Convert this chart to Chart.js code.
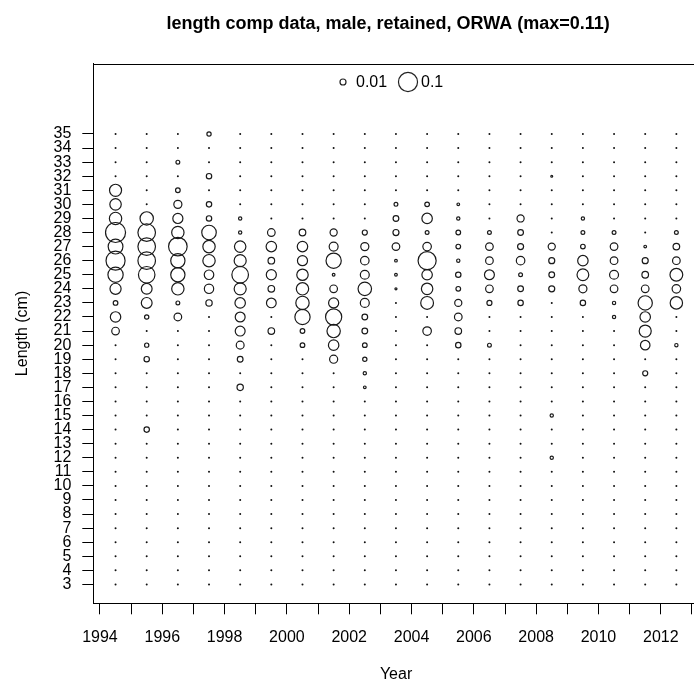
<!DOCTYPE html>
<html><head><meta charset="utf-8">
<script src="https://cdn.jsdelivr.net/npm/chart.js"></script>
<style>
html,body{margin:0;padding:0;overflow:hidden;background:#fff;width:694px;height:690px}
#wrap{width:710px;height:690px;position:relative}
</style></head><body>
<div id="wrap"><canvas id="c" width="710" height="690"></canvas></div>
<script>
// ---------------- DATA ----------------
const chartTitle = 'length comp data, male, retained, ORWA (max=0.11)';
const xAxisTitle = 'Year';
const yAxisTitle = 'Length (cm)';
const yearsMid = [1994.5,1995.5,1996.5,1997.5,1998.5,1999.5,2000.5,2001.5,2002.5,2003.5,
                  2004.5,2005.5,2006.5,2007.5,2008.5,2009.5,2010.5,2011.5,2012.5];
const lengthBins = [3,4,5,6,7,8,9,10,11,12,13,14,15,16,17,18,19,20,21,22,23,24,25,26,27,28,29,30,31,32,33,34,35];
const xTickYears = [1994,1995,1996,1997,1998,1999,2000,2001,2002,2003,2004,2005,2006,2007,2008,2009,2010,2011,2012,2013];
const xLabelYears = [1994,1996,1998,2000,2002,2004,2006,2008,2010,2012];
const legendValues = [0.01, 0.1];
const legendLabels = ['0.01', '0.1'];
const maxProp = 0.11;

// proportions by length bin 3..35 (rows: 3-12 | 13-22 | 23-32 | 33-35)
const p1994 = [0,0,0,0,0,0,0,0,0,0,  0,0,0,0,0,0,0,0,.016,.03,  .006,.034,.064,.10,.06,.11,.042,.036,.04,0,  0,0,0];
const p1995 = [0,0,0,0,0,0,0,0,0,0,  0,.008,0,0,0,0,.008,.005,0,.005,  .032,.032,.075,.085,.085,.085,.049,0,0,0,  0,0,0];
const p1996 = [0,0,0,0,0,0,0,0,0,0,  0,0,0,0,0,0,0,0,0,.016,  .004,.042,.056,.056,.095,.042,.028,.018,.006,0,  .004,0,0];
const p1997 = [0,0,0,0,0,0,0,0,0,0,  0,0,0,0,0,0,0,0,0,0,  .011,.024,.025,.042,.042,.058,.008,.008,0,.008,  0,0,.005];
const p1998 = [0,0,0,0,0,0,0,0,0,0,  0,0,0,0,.011,0,.009,.017,.027,.027,  .03,.04,.076,.04,.036,.003,.003,0,0,0,  0,0,0];
const p1999 = [0,0,0,0,0,0,0,0,0,0,  0,0,0,0,0,0,0,0,.012,0,  .026,.012,.028,.012,.03,.016,0,0,0,0,  0,0,0];
const p2000 = [0,0,0,0,0,0,0,0,0,0,  0,0,0,0,0,0,0,.006,.006,.064,  .049,.042,.036,.028,.03,.012,0,0,0,0,  0,0,0];
const p2001 = [0,0,0,0,0,0,0,0,0,0,  0,0,0,0,0,0,.018,.03,.049,.072,  .028,.016,.002,.064,.022,.014,0,0,0,0,  0,0,0];
const p2002 = [0,0,0,0,0,0,0,0,0,0,  0,0,0,0,.002,.003,.005,.006,.009,.009,  .022,.05,.022,.02,.018,.007,0,0,0,0,  0,0,0];
const p2003 = [0,0,0,0,0,0,0,0,0,0,  0,0,0,0,0,0,0,0,0,0,  0,.0012,.002,.002,.016,.01,.009,.004,0,0,  0,0,0];
const p2004 = [0,0,0,0,0,0,0,0,0,0,  0,0,0,0,0,0,0,0,.02,0,  .045,.036,.03,.09,.02,.004,.03,.006,0,0,  0,0,0];
const p2005 = [0,0,0,0,0,0,0,0,0,0,  0,0,0,0,0,0,0,.008,.012,.016,  .014,.006,.008,.003,.006,.006,.003,.002,0,0,  0,0,0];
const p2006 = [0,0,0,0,0,0,0,0,0,0,  0,0,0,0,0,0,0,.004,0,0,  .007,.016,.027,.016,.016,.004,0,0,0,0,  0,0,0];
const p2007 = [0,0,0,0,0,0,0,0,0,0,  0,0,0,0,0,0,0,0,0,0,  .008,.009,.004,.02,.01,.009,.014,0,0,0,  0,0,0];
const p2008 = [0,0,0,0,0,0,0,0,0,.003,  0,0,.003,0,0,0,0,0,0,0,  0,.01,.009,.01,.014,0,0,0,0,.001,  0,0,0];
const p2009 = [0,0,0,0,0,0,0,0,0,0,  0,0,0,0,0,0,0,0,0,0,  .008,.018,.038,.03,.006,.004,.003,0,0,0,  0,0,0];
const p2010 = [0,0,0,0,0,0,0,0,0,0,  0,0,0,0,0,0,0,0,0,.003,  .003,.016,.022,.016,.016,.004,0,0,0,0,  0,0,0];
const p2011 = [0,0,0,0,0,0,0,0,0,0,  0,0,0,0,0,.007,0,.025,.04,.03,  .056,.016,.012,.01,.002,0,0,0,0,0,  0,0,0];
const p2012 = [0,0,0,0,0,0,0,0,0,0,  0,0,0,0,0,0,0,.003,0,0,  .042,.02,.045,.016,.012,.004,0,0,0,0,  0,0,0];
const comps = [p1994,p1995,p1996,p1997,p1998,p1999,p2000,p2001,p2002,p2003,
               p2004,p2005,p2006,p2007,p2008,p2009,p2010,p2011,p2012];

// ---------------- STYLE ----------------
const FONT = '"Liberation Sans", Arial, sans-serif';
const R_MAX = 10;     // radius (px) of the largest bubble
const ZERO_R = 1;     // radius of zero-value dots
const TITLE_SHIFT = -8;
const sizeOf = v => R_MAX * Math.sqrt(v / maxProp);

const circles = [], zeros = [];
comps.forEach((row, i) => {
  row.forEach((v, j) => {
    if (v > 0) circles.push({x: yearsMid[i], y: lengthBins[j], r: sizeOf(v)});
    else zeros.push({x: yearsMid[i], y: lengthBins[j], r: ZERO_R});
  });
});

const titleShift = {
  id: 'titleShift',
  afterLayout(chart) {
    const t = chart.titleBlock;
    if (t) { t.left += TITLE_SHIFT; t.right += TITLE_SHIFT; }
  }
};

const boxPlugin = {
  id: 'box',
  afterDraw(chart) {
    const {ctx, chartArea: a} = chart;
    ctx.save();
    ctx.strokeStyle = '#000';
    ctx.lineWidth = 1;
    const l = Math.round(a.left) + 0.5, t = Math.round(a.top) + 0.5;
    const r = Math.round(a.right) + 0.5, b = Math.round(a.bottom) + 0.5;
    ctx.strokeRect(l, t, r - l, b - t);
    ctx.restore();
  }
};

const bubbleLegend = {
  id: 'bubbleLegend',
  afterDraw(chart) {
    const {ctx} = chart;
    const symX = [343, 408], textX = [356, 421], yMid = 82;
    ctx.save();
    ctx.strokeStyle = '#222';
    ctx.lineWidth = 1.2;
    ctx.fillStyle = '#000';
    ctx.font = '16px ' + FONT;
    ctx.textBaseline = 'middle';
    ctx.textAlign = 'left';
    legendValues.forEach((v, i) => {
      ctx.beginPath();
      ctx.arc(symX[i], yMid, sizeOf(v), 0, Math.PI * 2);
      ctx.stroke();
      ctx.fillText(legendLabels[i], textX[i], yMid + 1);
    });
    ctx.restore();
  }
};

new Chart(document.getElementById('c'), {
  type: 'bubble',
  data: {
    datasets: [
      {label: 'zero', data: zeros, backgroundColor: '#111', borderWidth: 0, radius: ZERO_R},
      {label: 'props', data: circles, backgroundColor: 'rgba(0,0,0,0)', borderColor: '#1a1a1a', borderWidth: 1.2}
    ]
  },
  options: {
    responsive: false,
    animation: false,
    events: [],
    layout: {padding: {left: 0, right: 9.6, top: 0, bottom: 0}},
    plugins: {
      legend: {display: false},
      tooltip: {enabled: false},
      title: {
        display: true, text: chartTitle, fullSize: false, color: '#000',
        font: {family: FONT, size: 18, weight: 'bold'},
        padding: {top: 13, bottom: 29}
      }
    },
    scales: {
      x: {
        type: 'linear', min: 1993.786, max: 2013.22,
        afterBuildTicks: s => { s.ticks = xTickYears.map(v => ({value: v})); },
        afterFit: s => { s.height = 86.7; s.paddingLeft = 0; s.paddingRight = 0; },
        ticks: {
          autoSkip: false, maxRotation: 0, padding: 13.5, color: '#000',
          font: {family: FONT, size: 16},
          callback: v => xLabelYears.includes(v) ? String(v) : ''
        },
        grid: {drawOnChartArea: false, drawTicks: true, tickLength: 11, tickColor: '#000', tickWidth: 1},
        border: {display: true, color: '#000', width: 1},
        title: {display: true, text: xAxisTitle, color: '#000', font: {family: FONT, size: 16}, padding: {top: 0, bottom: 5.5}}
      },
      y: {
        type: 'linear', min: 1.66, max: 40,
        afterBuildTicks: s => { s.ticks = lengthBins.map(v => ({value: v})); },
        afterFit: s => { s.width = 93.3; s.paddingTop = 0; s.paddingBottom = 0; },
        ticks: {
          autoSkip: false, padding: 11, color: '#000',
          font: {family: FONT, size: 16},
          callback: v => String(v)
        },
        grid: {drawOnChartArea: false, drawTicks: true, tickLength: 11, tickColor: '#000', tickWidth: 1},
        border: {display: true, color: '#000', width: 1},
        title: {display: true, text: yAxisTitle, color: '#000', font: {family: FONT, size: 16}, padding: {top: 12.5, bottom: 0}}
      }
    }
  },
  plugins: [titleShift, boxPlugin, bubbleLegend]
});
</script>
</body></html>
